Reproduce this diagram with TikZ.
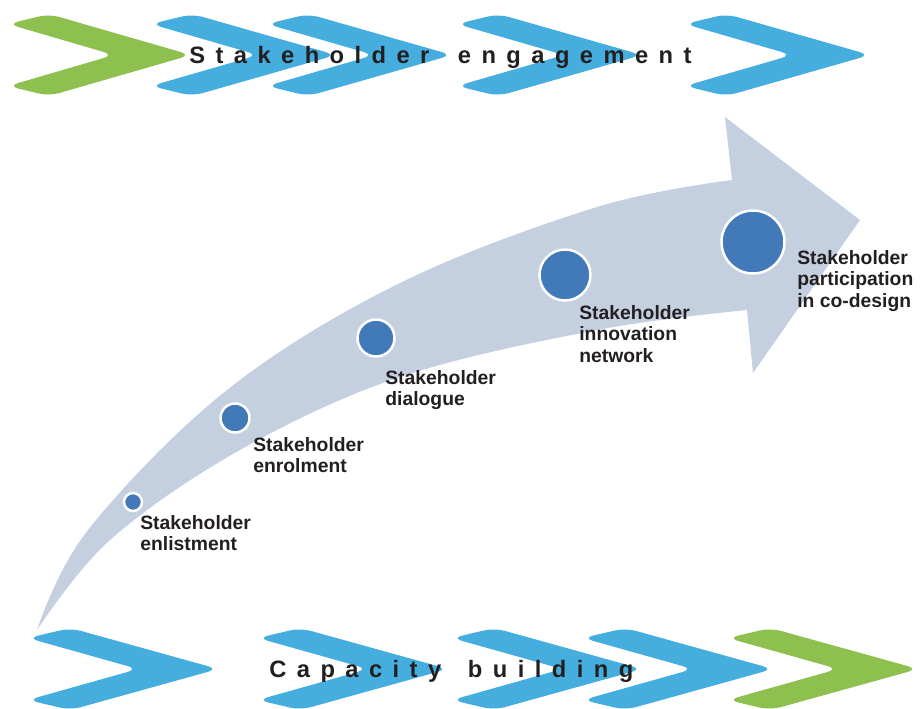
\documentclass[tikz,border=0pt]{standalone}
\usepackage{fontspec}
\setmainfont{Liberation Sans}
\newfontfamily\trackfont[LetterSpace=44]{Liberation Sans}
\usepackage{tikz}
\usepackage{xcolor}
\usetikzlibrary{positioning}

\definecolor{colorGreen}{HTML}{8DC04F}
\definecolor{colorBlue}{HTML}{46AEDF}
\definecolor{colorArrow}{HTML}{C4CFE0}
\definecolor{colorDot}{HTML}{4279B8}
\definecolor{colorText}{HTML}{231F20}
\def\colorGreen{colorGreen}
\def\colorBlue{colorBlue}
\def\colorArrow{colorArrow}
\def\colorDot{colorDot}
\def\colorText{colorText}

% Paramètres : #1=x gauche, #2=y pointe, #3=couleur, #4=largeur
\newcommand{\drawchevron}[4]{
	\begin{scope}[shift={(#1,#2)}, xscale = #4/173]
		\fill[#3, rounded corners = 6] (-5,-31) -- (36,-41) -- (178,0) -- (36,41) -- (-5,31) -- (101,0) -- cycle;
	\end{scope}
}

\tikzset{
	stagedot/.style = {circle, fill=\colorDot, draw=white, line width=2.5*0.02cm, inner sep=0pt},
	stagetext/.style = {anchor=north west, inner sep=0pt, align=left, \colorText, font=\fontsize{11pt}{12.2pt}\selectfont\bfseries},
	tracktext/.style = {anchor=base west, inner sep=0pt, \colorText, font=\fontsize{13.5pt}{16pt}\selectfont\trackfont\bfseries}
}

\begin{document}
\begin{tikzpicture}[x=0.02cm, y=-0.02cm]

    \useasboundingbox (0,0) rectangle (920,708);

    % Grande flèche courbe
    \fill[\colorArrow]
        plot[smooth, tension=0.6] coordinates {(37,630) (88,530) (227,390) (400,283) (597,207) (732,180)}
        -- (725,117) -- (860,220) -- (753,373) -- (747,310)
        -- plot[smooth, tension=0.6] coordinates {(747,310) (597,330) (400,377) (240,450) (110,540) (37,630)}
        -- cycle;

    % Rangée du haut
    \drawchevron{13}{55}{\colorGreen}{173}
    \foreach \x in {156,272,462,690} {
        \drawchevron{\x}{55}{\colorBlue}{175}
    }
    \node[tracktext] (engagement) at (189,63) {Stakeholder\hspace{6.5pt} engagement};

    % Rangée du bas
    \foreach \x in {33,263,457,588} {
        \drawchevron{\x}{669}{\colorBlue}{180}
    }
    \drawchevron{733}{669}{\colorGreen}{180}
    \node[tracktext] (capacity) at (269,677) {Capacity\hspace{5.5pt} building};

    % Etapes
    \node[stagedot, minimum size=18*0.02cm] (enlist) at (133,502) {};
    \node[stagedot, minimum size=29*0.02cm] (enrol) at (235,418) {};
    \node[stagedot, minimum size=37*0.02cm] (dialogue) at (376,338) {};
    \node[stagedot, minimum size=51*0.02cm] (network) at (565,275) {};
    \node[stagedot, minimum size=63*0.02cm] (codesign) at (753,242) {};

    \node[stagetext] (enlisttext) at (140,515) {Stakeholder\\enlistment};
    \node[stagetext] (enroltext) at (253,437) {Stakeholder\\enrolment};
    \node[stagetext] (dialoguetext) at (385,370) {Stakeholder\\dialogue};
    \node[stagetext] (networktext) at (579,305) {Stakeholder\\innovation\\network};
    \node[stagetext] (codesigntext) at (797,250) {Stakeholder\\participation\\in co-design};

\end{tikzpicture}
\end{document}
